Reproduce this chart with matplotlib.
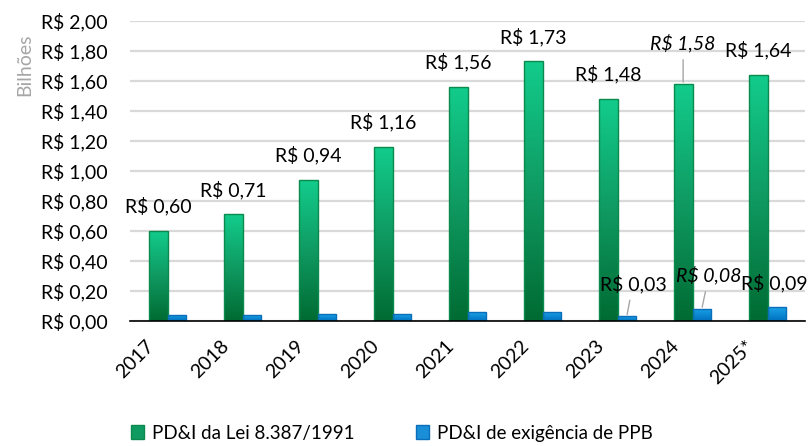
import numpy as np
import matplotlib
matplotlib.use("Agg")
import matplotlib.pyplot as plt
from matplotlib.colors import LinearSegmentedColormap
from matplotlib.transforms import ScaledTranslation

##############################################

anos = ["2017", "2018", "2019", "2020", "2021", "2022", "2023", "2024", "2025*"]
lei_8387 = [0.60, 0.71, 0.94, 1.16, 1.56, 1.73, 1.48, 1.58, 1.64]
ppb = [0.04, 0.035, 0.045, 0.045, 0.055, 0.06, 0.03, 0.08, 0.09]

serie_nomes = ["PD&I da Lei 8.387/1991", "PD&I de exigência de PPB"]
y_ticks = [0.0, 0.2, 0.4, 0.6, 0.8, 1.0, 1.2, 1.4, 1.6, 1.8, 2.0]

##############################################

plt.rcParams['font.family'] = ['Lato', 'DejaVu Sans']

verde = LinearSegmentedColormap.from_list("verde", ["#006B32", "#0F9A62", "#12CC8C"])
azul = LinearSegmentedColormap.from_list("azul", ["#0070C0", "#1BA3E8"])


def brl(v):
    return "R$ " + f"{v:.2f}".replace(".", ",")


def pinta_gradiente(ax, barras, cmap):
    grad = np.linspace(0, 1, 256).reshape(-1, 1)
    for b in barras:
        x0, y0 = b.get_x(), b.get_y()
        w, h = b.get_width(), b.get_height()
        im = ax.imshow(grad, cmap=cmap, origin="lower", aspect="auto",
                       extent=(x0, x0 + w, y0, y0 + h), zorder=2)
        im.set_clip_path(b)


fig = plt.figure(figsize=(8.09, 4.46), dpi=100)
ax = fig.add_axes([130/809, 1 - 320.5/446, 675/809, 300/446])

x = np.arange(len(anos))
w = 0.25
b1 = ax.bar(x - w/2, lei_8387, w, facecolor="none", edgecolor="#0B8A4E", linewidth=1, zorder=3)
b2 = ax.bar(x + w/2, ppb, w, facecolor="none", edgecolor="#0A6FB8", linewidth=1, zorder=3)
pinta_gradiente(ax, b1, verde)
pinta_gradiente(ax, b2, azul)

ax.set_xlim(-0.5, len(anos) - 0.5)
ax.set_ylim(0, 2.0)
ax.set_yticks(y_ticks)
ax.set_yticklabels([brl(v) for v in y_ticks], fontsize=14)
ax.yaxis.grid(True, color="#D9D9D9", linewidth=1.6, zorder=0)
ax.set_axisbelow(True)
ax.tick_params(axis="both", length=0)
ax.tick_params(axis="y", pad=16)
for s in ["top", "right", "left"]:
    ax.spines[s].set_visible(False)
ax.spines["bottom"].set_color("black")
ax.spines["bottom"].set_linewidth(1.2)
ax.spines["bottom"].set_zorder(4)

ax.set_xticks(x)
ax.set_xticklabels(anos, rotation=45, ha="right", va="center",
                   rotation_mode="anchor", fontsize=14)
ax.tick_params(axis="x", pad=16)
desloc = ScaledTranslation(-0.16, 0, fig.dpi_scale_trans)
for lab in ax.get_xticklabels():
    lab.set_transform(lab.get_transform() + desloc)

# rotulos de dados (offset em pixels a partir do topo da barra)
linha = dict(arrowstyle="-", color="#A6A6A6", lw=1, shrinkA=3, shrinkB=1)
for i, v in enumerate(lei_8387):
    if anos[i] == "2024":
        ax.annotate(brl(v), (x[i] - w/2, v), xytext=(0, 40), textcoords="offset pixels",
                    ha="center", va="center", fontsize=14, style="italic",
                    arrowprops=linha, zorder=5)
    else:
        ax.annotate(brl(v), (x[i] - w/2, v), xytext=(0, 24), textcoords="offset pixels",
                    ha="center", va="center", fontsize=14, zorder=5)

extra = {"2023": (6, 32, "normal"), "2024": (7, 33, "italic"), "2025*": (-3, 24, "normal")}
for i, v in enumerate(ppb):
    if anos[i] in extra:
        dx, dy, st = extra[anos[i]]
        ax.annotate(brl(v), (x[i] + w/2, v), xytext=(dx, dy), textcoords="offset pixels",
                    ha="center", va="center", fontsize=14, style=st,
                    arrowprops=linha if dy > 24 else None, zorder=5,
                    annotation_clip=False)

fig.text(25/809, 1 - 65/446, "Bilhões", rotation=90, color="#A6A6A6",
         fontsize=14, ha="center", va="center")

h1 = plt.Rectangle((0, 0), 1, 1, facecolor="#0F9A62", edgecolor="#0B8A4E")
h2 = plt.Rectangle((0, 0), 1, 1, facecolor="#1A8FD8", edgecolor="#0A6FB8")
fig.legend([h1, h2], serie_nomes, loc="center", bbox_to_anchor=(392/809, 1 - 433/446),
           ncol=2, frameon=False, fontsize=13.5, handlelength=0.7, handleheight=0.7,
           handletextpad=0.4, columnspacing=3.3)

fig.savefig("out.png", dpi=100)
